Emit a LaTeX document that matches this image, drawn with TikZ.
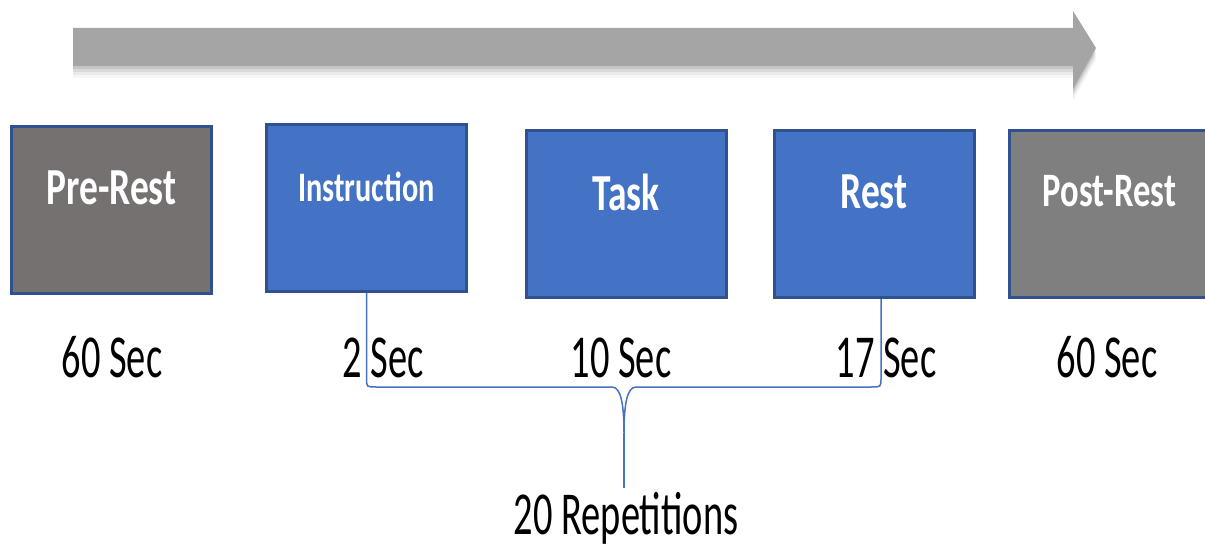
\documentclass[tikz,border=0pt]{standalone}
\usepackage{fontspec}
\newfontfamily\phasefont[FakeStretch=0.72]{Carlito}
\newfontfamily\labelfont[FakeStretch=0.63]{Carlito}
\definecolor{phaseblue}{HTML}{4472C4}
\definecolor{phaseline}{HTML}{2F528F}
\definecolor{pregray}{HTML}{767171}
\definecolor{postgray}{HTML}{7F7F7F}
\definecolor{arrowgray}{HTML}{A5A5A5}

\begin{document}
\begin{tikzpicture}[x=1pt,y=-1pt,
    phase/.style={draw=phaseline,line width=3pt,minimum width=200pt,minimum height=167pt,inner sep=0pt},
    phasetext/.style={text=white,font=\phasefont\bfseries\fontsize{52}{56}\selectfont},
    duration/.style={anchor=base,font=\labelfont\fontsize{61}{64}\selectfont},
    brace/.style={draw=phaseblue,line width=1.5pt}]
   \useasboundingbox (0,0) rectangle (1205,548);
   % time arrow with a soft shadow
   \foreach \d/\o in {12/0.03,9/0.05,6/0.07,3/0.09}
      \fill[black,opacity=\o] (73,28+\d) -- (1073,28+\d) -- (1073,11+\d) -- (1096,48+\d)
      -- (1073,89+\d) -- (1073,66+\d) -- (73,66+\d) -- cycle;
   \fill[arrowgray] (73,28) -- (1073,28) -- (1073,11) -- (1096,48)
      -- (1073,89) -- (1073,66) -- (73,66) -- cycle;
   % phases
   \node[phase,fill=pregray] (prerest) at (111.5,210) {};
   \node[phase,fill=phaseblue] (instr) at (366.5,208) {};
   \node[phase,fill=phaseblue] (task) at (626,214) {};
   \node[phase,fill=phaseblue] (rest) at (874,214) {};
   \node[phase,fill=postgray] (postrest) at (1109.5,214) {};
   \node[phasetext] (prerestT) at ([yshift=22pt]prerest.center) {Pre-Rest};
   \node[phasetext,font=\phasefont\bfseries\fontsize{42}{46}\selectfont] (instrT) at ([yshift=21pt]instr.center) {Instruction};
   \node[phasetext] (taskT) at ([yshift=22pt]task.center) {Task};
   \node[phasetext] (restT) at ([yshift=22pt]rest.center) {Rest};
   \node[phasetext,font=\phasefont\bfseries\fontsize{48}{52}\selectfont] (postrestT) at ([yshift=23pt]postrest.center) {Post-Rest};
   % durations
   \node[duration] (preD) at (112,377) {60 Sec};
   \node[duration] (instrD) at (383,377) {2 Sec};
   \node[duration] (taskD) at (621,377) {10 Sec};
   \node[duration] (restD) at (886,377) {17 Sec};
   \node[duration] (postD) at (1107,377) {60 Sec};
   \node[duration] (reps) at (626,534) {20 Repetitions};
   % bracket over one repetition
   \coordinate (bracetip) at (624,433);
   \draw[brace] (instr.south) -- (366.5,378) .. controls (366.5,387) .. (376,387) -- (612,387)
      .. controls (621,387) and (624,405) .. (bracetip)
      .. controls (624,405) and (627,387) .. (636,387) -- (871,387)
      .. controls (881,387) .. (881,378) -- ([xshift=7pt]rest.south);
   \draw[brace] (bracetip) -- (reps.north -| bracetip);
\end{tikzpicture}
\end{document}
